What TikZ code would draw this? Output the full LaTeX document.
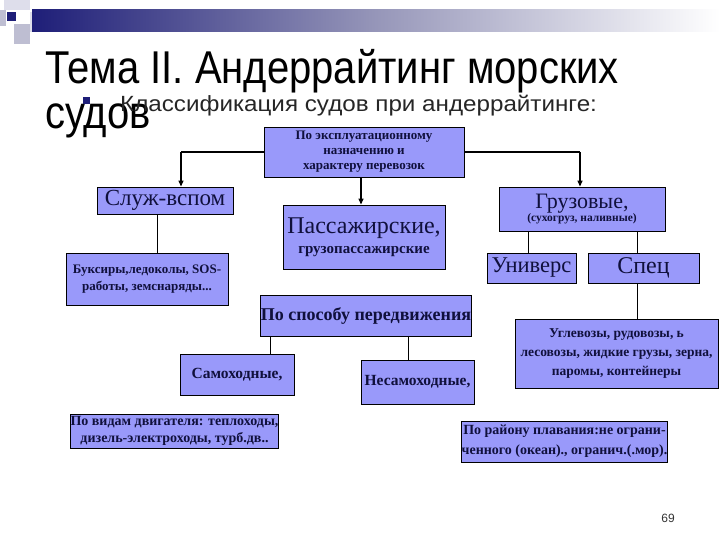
\documentclass[tikz,border=0pt]{standalone}
\usepackage{fontspec}
\setmainfont{Liberation Serif}
\newfontfamily\arialf{Liberation Sans}
\usetikzlibrary{arrows.meta}
\definecolor{boxfill}{RGB}{153,153,250}
\definecolor{navytext}{RGB}{16,16,60}
\definecolor{bardark}{RGB}{30,30,120}
\definecolor{barmid}{RGB}{150,150,185}
\definecolor{sqgray}{RGB}{190,190,210}
\definecolor{sqlight}{RGB}{222,222,235}
\tikzset{
  box/.style={draw=black, fill=boxfill, line width=0.9pt, inner sep=0pt, align=center, text=navytext},
  big/.style={font=\fontsize{23}{25}\selectfont},
  conn/.style={draw=black, line width=1.3pt},
  thin/.style={draw=black, line width=0.9pt},
  arr/.style={conn, -{Triangle[length=6pt,width=5pt]}}
}
\begin{document}
\begin{tikzpicture}[x=1pt,y=-1pt]
\useasboundingbox (0,0) rectangle (720,540);
\fill[white] (0,0) rectangle (720,540);
% header decoration
\fill[sqlight] (4,0) rectangle (30,10);
\fill[sqgray] (0,10) rectangle (6,26);
\fill[sqgray] (14,24) rectangle (30,44);
\fill[sqlight] (30,12) rectangle (40,32);
\shade[left color=bardark, right color=white, middle color=barmid] (32,10) rectangle (720,32);
\fill[bardark] (7,12) rectangle (16,21);
% title
\node[anchor=base west, inner sep=0pt, font=\arialf\fontsize{46}{48}\selectfont] (title1) at (45,84) {\scalebox{0.87}[1]{Тема II. Андеррайтинг морских}};
\node[anchor=base west, inner sep=0pt, font=\arialf\fontsize{46}{48}\selectfont] (title2) at (45,129) {\scalebox{0.87}[1]{судов}};
\fill[bardark] (83,97) rectangle (90,104);
\node[anchor=base west, inner sep=0pt, font=\arialf\fontsize{22}{24}\selectfont, text=black!85] (sub) at (120,112) {\scalebox{1.1}[1]{Классификация судов при андеррайтинге:}};
% boxes
\node[box, font=\bfseries\fontsize{13}{15}\selectfont, minimum width=200, minimum height=50] (top) at (364,152) {По эксплуатационному\\назначению и\\характеру перевозок};
\node[box, big, minimum width=136, minimum height=27] (sluzh) at (165,200.5) {Служ-вспом};
\node[box, font=\bfseries\fontsize{13}{17}\selectfont, minimum width=162, minimum height=52] (buks) at (147,279) {Буксиры,ледоколы, SOS-\\работы, земснаряды...};
\node[box, minimum width=162, minimum height=64] (pass) at (364,237) {{\fontsize{24}{26}\selectfont Пассажирские,}\\[7pt]{\bfseries\fontsize{15}{16}\selectfont грузопассажирские}};
\node[box, minimum width=166, minimum height=44] (gruz) at (582,209) {{\fontsize{22}{24}\selectfont Грузовые,}\\{\bfseries\fontsize{11.5}{12}\selectfont (сухогруз, наливные)}};
\node[box, font=\fontsize{22.5}{25}\selectfont, minimum width=89, minimum height=30] (univ) at (531.5,268) {Универс};
\node[box, font=\fontsize{24}{25}\selectfont, minimum width=111, minimum height=30] (spec) at (643.5,268) {Спец};
\node[box, font=\bfseries\fontsize{18}{20}\selectfont, minimum width=204, minimum height=41] (sposob) at (366,315.5) {По способу передвижения};
\node[box, font=\bfseries\fontsize{15.5}{17}\selectfont, minimum width=114, minimum height=41] (samo) at (237,374.5) {Самоходные,};
\node[box, font=\bfseries\fontsize{15.5}{17}\selectfont, minimum width=113, minimum height=44] (nesamo) at (417.5,382) {Несамоходные,};
\node[box, font=\bfseries\fontsize{13.5}{19}\selectfont, minimum width=203, minimum height=69] (ugl) at (616.5,353.5) {Углевозы, рудовозы, ь\\лесовозы, жидкие грузы, зерна,\\паромы, контейнеры};
\node[box, font=\bfseries\fontsize{14}{17}\selectfont, minimum width=205, minimum height=34] (vidam) at (174.5,431) {По видам двигателя: теплоходы,\\дизель-электроходы, турб.дв..};
\node[box, font=\bfseries\fontsize{14}{20}\selectfont, minimum width=205, minimum height=41] (rayon) at (564.5,441.5) {По району плавания:не ограни-\\ченного (океан)., огранич.(.мор).};
% connectors
\coordinate (cl) at (181,152);
\coordinate (cr) at (580,152);
\draw[conn] (top.west) -- (cl);
\draw[arr] (cl) -- (cl |- sluzh.north);
\draw[conn] (top.east) -- (cr);
\draw[arr] (cr) -- (cr |- gruz.north);
\draw[arr] (top.south -| 361,0) -- (pass.north -| 361,0);
\draw[thin] (sluzh.south -| 157,0) -- (buks.north -| 157,0);
\draw[thin] (gruz.south -| 528,0) -- (univ.north -| 528,0);
\draw[thin] (gruz.south -| 637,0) -- (spec.north -| 637,0);
\draw[thin] (spec.south -| 637,0) -- (ugl.north -| 637,0);
\draw[thin] (sposob.south -| 270,0) -- (samo.north -| 270,0);
\draw[thin] (sposob.south -| 408,0) -- (nesamo.north -| 408,0);
% page number
\node[anchor=base, inner sep=0pt, font=\arialf\fontsize{12}{14}\selectfont, text=black!80] (pg) at (668,522) {69};
\end{tikzpicture}
\end{document}
